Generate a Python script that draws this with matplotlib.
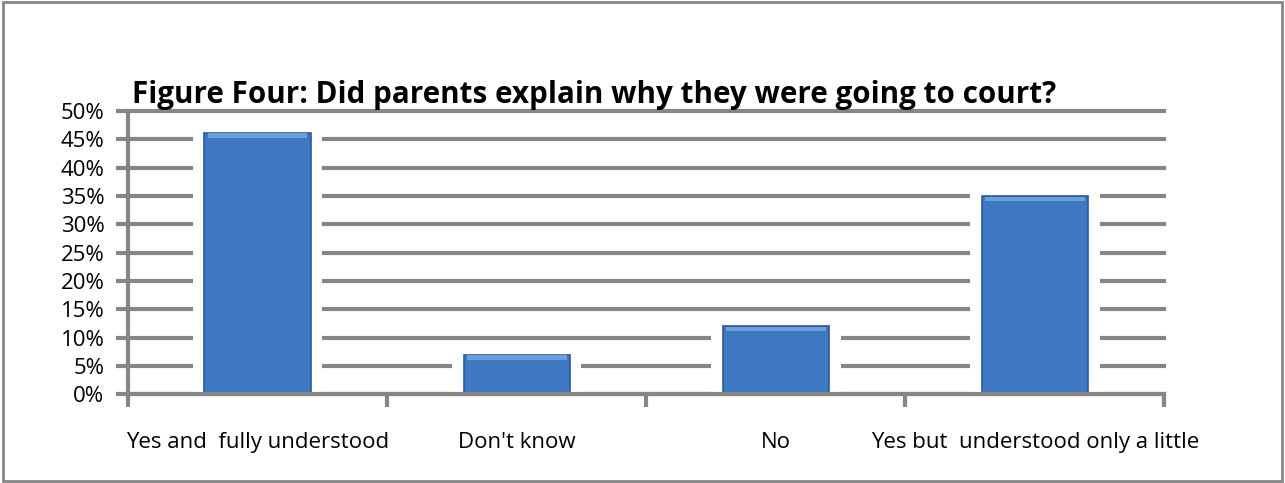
import matplotlib
matplotlib.use("Agg")
import matplotlib.pyplot as plt
from matplotlib.patches import Rectangle
from matplotlib.ticker import PercentFormatter
import numpy as np

categories = ["Yes and  fully understood", "Don't know", "No", "Yes but  understood only a little"]
values = [46.2, 7, 12, 35]
yticks = [0, 5, 10, 15, 20, 25, 30, 35, 40, 45, 50]

plt.rcParams["font.family"] = ["Open Sans", "DejaVu Sans"]
grey = "#868686"

fig = plt.figure(figsize=(12.85, 4.83), dpi=100)
ax = fig.add_axes([0.0996, 0.184, 0.8066, 0.586])

x = np.arange(len(categories))
width = 0.41
# white halo so the gridlines break around each bar
ax.bar(x, [v + 0.8 for v in values], width=width + 0.09, color="white", zorder=2)
ax.bar(x, values, width=width, color="#3f78c2", edgecolor="#2c5a96", linewidth=1.2, zorder=3)
# lighter bevel along the top of each bar
ax.bar(x, [0.8] * len(values), bottom=[v - 0.9 for v in values], width=width * 0.94,
       color="#6a9fdc", linewidth=0, zorder=4)

ax.set_xlim(-0.5, len(categories) - 0.5)
ax.set_ylim(0, 50)
ax.set_yticks(yticks)
ax.yaxis.set_major_formatter(PercentFormatter(decimals=0))
ax.yaxis.grid(True, color=grey, linewidth=3, zorder=1)
ax.set_axisbelow(True)
for gl in ax.get_ygridlines():
    gl.set_clip_on(False)

ax.set_xticks(np.arange(len(categories) + 1) - 0.5)
ax.set_xticklabels([])
ax.set_xticks(x, minor=True)
ax.set_xticklabels(categories, minor=True, fontsize=16)
ax.tick_params(axis="x", which="minor", length=0, pad=27)
ax.tick_params(axis="x", which="major", length=9, width=3, color=grey)
ax.tick_params(axis="y", length=9, width=3, color=grey, labelsize=16, pad=8)

for s in ["top", "right"]:
    ax.spines[s].set_visible(False)
for s in ["left", "bottom"]:
    ax.spines[s].set_color(grey)
    ax.spines[s].set_linewidth(3)
    ax.spines[s].set_zorder(5)

fig.text(0.462, 0.803, "Figure Four: Did parents explain why they were going to court?",
         ha="center", va="center", fontsize=21.3, fontweight="bold")

fig.patches.append(Rectangle((0.002, 0.004), 0.996, 0.992, transform=fig.transFigure,
                             fill=False, edgecolor=grey, linewidth=2))

fig.savefig("out.png", dpi=100)
